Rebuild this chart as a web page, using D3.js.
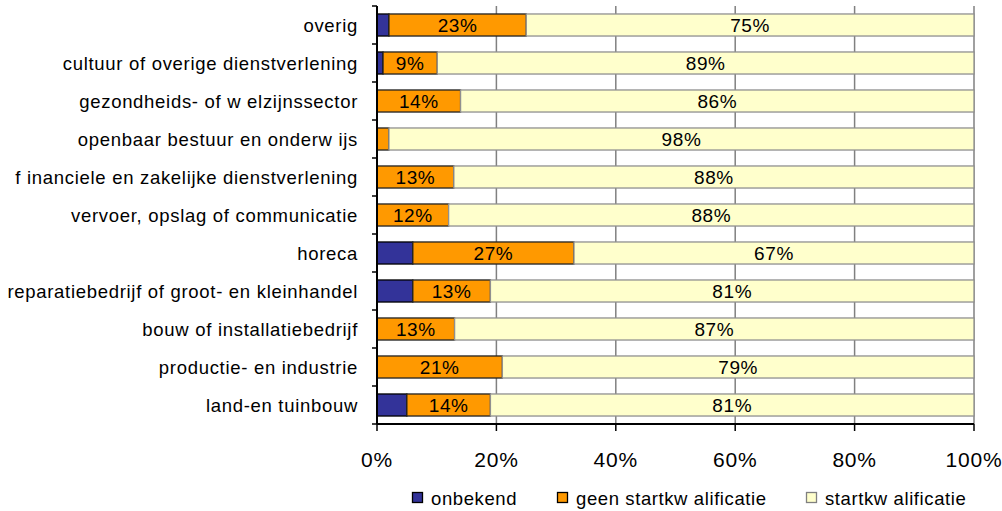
<!DOCTYPE html>
<html><head><meta charset="utf-8">
<script src="https://cdn.jsdelivr.net/npm/d3@7"></script>
<style>body{margin:0;background:#fff}svg{display:block;font-family:"Liberation Sans",Arial,sans-serif}</style>
</head><body><svg id="c" width="1002" height="511"></svg>
<script>
const categories = ["overig","cultuur of overige dienstverlening","gezondheids- of w elzijnssector","openbaar bestuur en onderw ijs","f inanciele en zakelijke dienstverlening","vervoer, opslag of communicatie","horeca","reparatiebedrijf of groot- en kleinhandel","bouw of installatiebedrijf","productie- en industrie","land-en tuinbouw"];
const onbekend = [2,1,0,0,0,0,6,6,0,0,5];
const geen = [23,9,14,2,13,12,27,13,13,21,14];
const start = [75,89,86,98,88,88,67,81,87,79,81];
const seriesNames = ["onbekend","geen startkw alificatie","startkw alificatie"];
const colors = ["#333399","#FF9900","#FFFFCC"];
const strokes = ["#000","#222","#909090"];
const xTicks = [0,0.2,0.4,0.6,0.8,1];

const svg = d3.select("#c");
const m = {l:377,r:974,t:6,b:424};
const x = d3.scaleLinear().domain([0,1]).range([m.l,m.r]);
const y = d3.scaleBand().domain(categories).range([m.t,m.b]).paddingInner(0.42).paddingOuter(0.21);
const yb = d3.scaleBand().domain(categories).range([m.t,m.b]);

// gridlines
svg.append("g").selectAll("line").data(xTicks.slice(1)).join("line")
  .attr("x1",d=>x(d)).attr("x2",d=>x(d)).attr("y1",m.t).attr("y2",m.b)
  .attr("stroke","#808080").attr("stroke-width",1.5);

const rows = categories.map((c,i)=>{
  const vals=[onbekend[i],geen[i],start[i]]; const tot=d3.sum(vals);
  let acc=0; return vals.map((v,k)=>{const s={c,k,v,x0:acc/tot,x1:(acc+v)/tot}; acc+=v; return s;});
}).flat();

const g = svg.append("g");
g.selectAll("rect").data(rows.filter(d=>d.v>0)).join("rect")
  .attr("x",d=>x(d.x0)).attr("width",d=>x(d.x1)-x(d.x0))
  .attr("y",d=>y(d.c)).attr("height",y.bandwidth())
  .attr("fill",d=>colors[d.k]).attr("stroke",d=>strokes[d.k]).attr("stroke-width",1.3);

g.selectAll("text").data(rows.filter(d=>d.k>0 && d.v>=5)).join("text")
  .attr("x",d=>(x(d.x0)+x(d.x1))/2).attr("y",d=>y(d.c)+y.bandwidth()/2)
  .attr("dy","0.36em").attr("text-anchor","middle")
  .attr("font-size",19).attr("letter-spacing",0.6).attr("fill","#000")
  .text(d=>d.v+"%");

// axes
svg.append("line").attr("x1",m.l).attr("x2",m.l).attr("y1",m.t).attr("y2",m.b).attr("stroke","#000").attr("stroke-width",2);
svg.append("line").attr("x1",m.l).attr("x2",m.r).attr("y1",m.b).attr("y2",m.b).attr("stroke","#000").attr("stroke-width",2);
const bounds = categories.map(c=>yb(c)).concat([m.b]);
svg.append("g").selectAll("line").data(bounds).join("line")
  .attr("x1",m.l-5).attr("x2",m.l).attr("y1",d=>d).attr("y2",d=>d).attr("stroke","#000").attr("stroke-width",1.5);
svg.append("g").selectAll("line").data(xTicks).join("line")
  .attr("x1",d=>x(d)).attr("x2",d=>x(d)).attr("y1",m.b).attr("y2",m.b+7).attr("stroke","#000").attr("stroke-width",1.5);

svg.append("g").selectAll("text").data(categories).join("text")
  .attr("x",358).attr("y",d=>yb(d)+yb.bandwidth()/2).attr("dy","0.36em")
  .attr("text-anchor","end").attr("font-size",18.5).attr("letter-spacing",0.7).text(d=>d);

svg.append("g").selectAll("text").data(xTicks).join("text")
  .attr("x",d=>x(d)).attr("y",467).attr("text-anchor","middle")
  .attr("font-size",21).attr("letter-spacing",0.8).text(d=>Math.round(d*100)+"%");

const legX = [412,557,806];
const lg = svg.append("g").selectAll("g").data(seriesNames).join("g")
  .attr("transform",(d,i)=>`translate(${legX[i]},0)`);
lg.append("rect").attr("x",0.5).attr("y",492.5).attr("width",10).attr("height",10)
  .attr("fill",(d,i)=>colors[i]).attr("stroke",(d,i)=>i==2?"#808080":"#000").attr("stroke-width",1.3);
lg.append("text").attr("x",19).attr("y",505).attr("font-size",18.5).attr("letter-spacing",0.6).text(d=>d);
</script></body></html>
